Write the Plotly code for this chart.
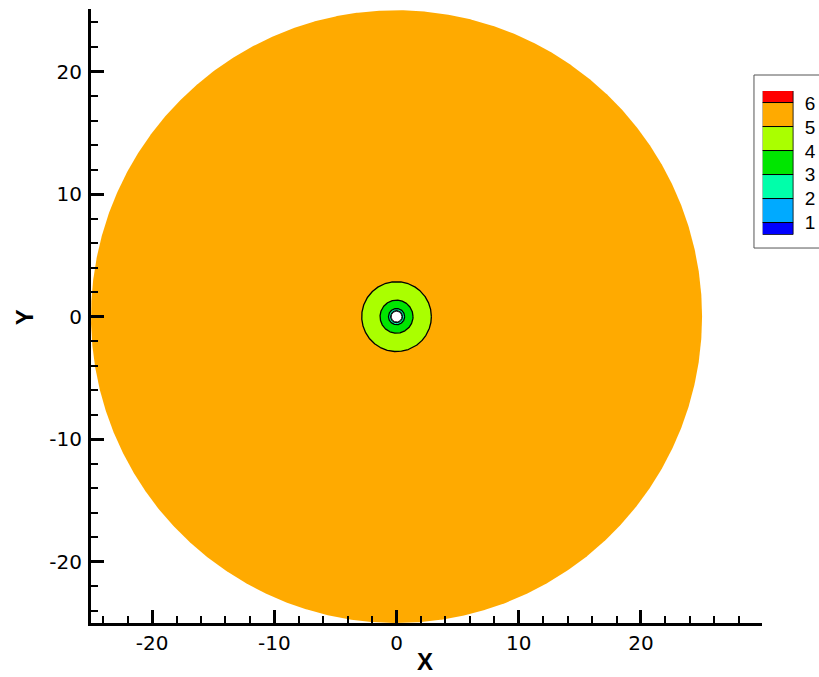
import numpy as np
import plotly.graph_objects as go

# Contour levels and the band colours (from below level 1 up to above level 6)
levels = [1, 2, 3, 4, 5, 6]
band_colors = ["#0000FF", "#00AAFF", "#00FFAA", "#00E600", "#AAFF00", "#FFAA00", "#FF0000"]

# Radii of the circular contour lines around the body, per level
line_levels = [2, 3, 4, 5]
line_radii = [0.48, 0.66, 1.35, 2.85]

# Computational domain: outer boundary and body radius
domain_radius = 25.0
body_radius = 0.44
domain_band = 5  # far-field band index (between levels 5 and 6)

x_range = [-25, 29.9]
y_range = [-25, 25.1]
major_ticks = [-20, -10, 0, 10, 20]
major_tick_text = ["-20", "-10", "0", "10", "20"]

FONT = "Liberation Sans, Arial, sans-serif"
TICK_FONT = "DejaVu Sans, Liberation Sans, sans-serif"

theta = np.linspace(0, 2 * np.pi, 1441)


def ring(r):
    return r * np.cos(theta), r * np.sin(theta)


fig = go.Figure()

# Far field disk
cx, cy = ring(domain_radius)
fig.add_trace(go.Scatter(x=cx, y=cy, mode="lines", fill="toself",
                         fillcolor=band_colors[domain_band],
                         line=dict(width=0, color=band_colors[domain_band]),
                         hoverinfo="skip", showlegend=False))

# Filled contour bands, largest first, each with its black contour line
for lev, r in sorted(zip(line_levels, line_radii), key=lambda t: -t[1]):
    cx, cy = ring(r)
    fig.add_trace(go.Scatter(x=cx, y=cy, mode="lines", fill="toself",
                             fillcolor=band_colors[lev - 1],
                             line=dict(width=1.3, color="black"),
                             hoverinfo="skip", showlegend=False))

# Body (blank)
cx, cy = ring(body_radius)
fig.add_trace(go.Scatter(x=cx, y=cy, mode="lines", fill="toself",
                         fillcolor="white", line=dict(width=1, color="#222"),
                         hoverinfo="skip", showlegend=False))

# Colour legend as stacked bars on a small second axis
bar_base = [levels[0] - 0.5] + levels
bar_height = [0.5] + [1] * (len(levels) - 1) + [0.5]
fig.add_trace(go.Bar(x=[0.5] * len(band_colors), y=bar_height, base=bar_base,
                     width=1, marker=dict(color=band_colors,
                                          line=dict(color="black", width=1)),
                     xaxis="x2", yaxis="y2", hoverinfo="skip", showlegend=False))

axis_common = dict(showgrid=False, zeroline=False, showline=True, linewidth=3,
                   linecolor="black", ticks="inside", ticklen=13, tickwidth=3,
                   tickcolor="black", tickvals=major_ticks, ticktext=major_tick_text,
                   tickfont=dict(family=TICK_FONT, size=20, color="black"),
                   minor=dict(dtick=2, ticks="inside", ticklen=7, tickwidth=1.5,
                              tickcolor="black", showgrid=False))

fig.update_layout(
    width=819, height=677,
    margin=dict(l=91, r=2, t=9, b=54),
    paper_bgcolor="white", plot_bgcolor="white",
    xaxis=dict(domain=[0, 0.9242], range=x_range, anchor="y", **axis_common),
    yaxis=dict(domain=[0, 1], range=y_range, anchor="x", ticklabelstandoff=2,
               **axis_common),
    xaxis2=dict(domain=[0.9252, 0.9679], range=[0, 1], anchor="y2",
                visible=False, fixedrange=True),
    yaxis2=dict(domain=[0.6324, 0.8664], range=[levels[0] - 0.5, levels[-1] + 0.5],
                anchor="x2", side="right", showgrid=False, zeroline=False,
                showline=False, ticks="", tickvals=levels,
                ticklabelstandoff=10,
                tickfont=dict(family=FONT, size=19, color="black")),
    bargap=0,
    shapes=[dict(type="rect", xref="paper", yref="paper",
                 x0=0.9132, x1=1.03, y0=0.6107, y1=0.8925,
                 line=dict(color="#555", width=1), fillcolor="rgba(0,0,0,0)",
                 layer="below")],
    annotations=[
        dict(text="<b>X</b>", xref="paper", yref="paper", x=0.4601, y=-0.0619,
             xanchor="center", yanchor="middle", showarrow=False,
             font=dict(family=FONT, size=24, color="black")),
        dict(text="<b>Y</b>", xref="paper", yref="paper", x=-0.0923, y=0.498,
             xanchor="center", yanchor="middle", showarrow=False, textangle=-90,
             font=dict(family=FONT, size=24, color="black")),
    ],
)

fig.write_html("out.html")
